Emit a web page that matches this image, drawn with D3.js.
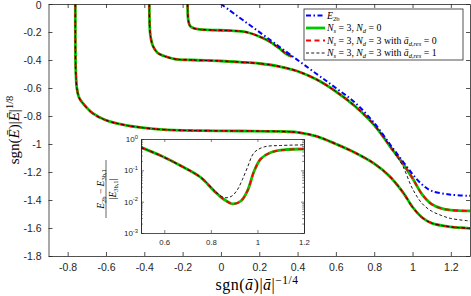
<!DOCTYPE html>
<html>
<head>
<meta charset="utf-8">
<script src="https://cdn.jsdelivr.net/npm/d3@7"></script>
<style>
  body { margin: 0; background: #fff; }
  svg { display: block; }
  .tick text { font-family: "Liberation Sans", Arial, sans-serif; fill: #262626; }
</style>
</head>
<body>
<div id="container"></div>
<script>
	var WIDTH = 471;
	var HEIGHT = 296;

	// main plot ticks
	var xTicks = [-0.8, -0.6, -0.4, -0.2, 0, 0.2, 0.4, 0.6, 0.8, 1, 1.2];
	var yTicks = [0, -0.2, -0.4, -0.6, -0.8, -1, -1.2, -1.4, -1.6, -1.8];

	// E_2b (atom-dimer threshold)
	var e2bX = [0, 0.3, 0.5, 0.6, 0.7, 0.8, 0.9, 0.95, 1.0, 1.05, 1.1, 1.2, 1.3];
	var e2bY = [0, -0.3, -0.5, -0.6, -0.705, -0.85, -1.035, -1.125, -1.215, -1.29, -1.335, -1.362, -1.37];

	// trimer branches, Ns=3 Nd=0 (red dashed Nd=3, a_res=0 is on top of it)
	var b1X = [-0.760, -0.760, -0.759, -0.757, -0.752, -0.74, -0.72, -0.67, -0.6, -0.5, -0.4, -0.3, -0.1, 0.1, 0.3, 0.4, 0.5, 0.6, 0.7, 0.8, 0.88, 0.95, 1.0, 1.05, 1.1, 1.2, 1.3];
	var b1Y = [0, -0.2, -0.4, -0.5, -0.6, -0.67, -0.71, -0.78, -0.83, -0.865, -0.885, -0.897, -0.905, -0.907, -0.91, -0.917, -0.945, -1.0, -1.062, -1.14, -1.23, -1.345, -1.45, -1.525, -1.565, -1.592, -1.602];

	var b2X = [-0.374, -0.373, -0.37, -0.365, -0.355, -0.33, -0.3, -0.24, -0.15, 0, 0.1, 0.2, 0.3, 0.4, 0.5, 0.6, 0.7, 0.8, 0.9, 0.95, 1.0, 1.05, 1.1, 1.15, 1.2, 1.3];
	var b2Y = [0, -0.1, -0.2, -0.25, -0.3, -0.35, -0.37, -0.393, -0.4, -0.407, -0.415, -0.425, -0.445, -0.48, -0.54, -0.625, -0.73, -0.865, -1.05, -1.14, -1.245, -1.36, -1.43, -1.46, -1.472, -1.478];

	var b3X = [-0.174, -0.173, -0.17, -0.162, -0.148, -0.12, -0.05, 0.05, 0.13, 0.2, 0.25, 0.3, 0.34, 0.37];
	var b3Y = [0, -0.07, -0.12, -0.155, -0.17, -0.18, -0.186, -0.19, -0.2, -0.232, -0.265, -0.312, -0.355, -0.375];

	// Nd=3 with a_res=1: branch 2 differs at the right end
	var b2resX = [-0.374, -0.373, -0.37, -0.365, -0.355, -0.33, -0.3, -0.24, -0.15, 0, 0.1, 0.2, 0.3, 0.4, 0.5, 0.6, 0.7, 0.8, 0.9, 0.95, 1.0, 1.05, 1.1, 1.15, 1.2, 1.3];
	var b2resY = [0, -0.1, -0.2, -0.25, -0.3, -0.35, -0.37, -0.393, -0.4, -0.407, -0.415, -0.425, -0.445, -0.48, -0.54, -0.625, -0.73, -0.865, -1.05, -1.16, -1.32, -1.425, -1.48, -1.51, -1.532, -1.55];

	// inset: relative error
	var inXTicks = [0.6, 0.8, 1, 1.2];
	var inYTicks = [1e-3, 1e-2, 1e-1, 1];
	var inYLabels = ["-3", "-2", "-1", "0"];
	var errX = [0.5, 0.586, 0.671, 0.757, 0.814, 0.857, 0.893, 0.929, 0.957, 0.986, 1.014, 1.057, 1.114, 1.2];
	var errY = [0.54, 0.29, 0.139, 0.059, 0.022, 0.0117, 0.0085, 0.0105, 0.022, 0.095, 0.23, 0.37, 0.45, 0.48];
	var errResX = [0.5, 0.586, 0.671, 0.757, 0.814, 0.845, 0.865, 0.89, 0.914, 0.935, 0.957, 0.986, 1.029, 1.1, 1.2];
	var errResY = [0.54, 0.29, 0.139, 0.059, 0.023, 0.0148, 0.0133, 0.0151, 0.024, 0.05, 0.123, 0.37, 0.56, 0.62, 0.65];

	var zip = function(xs, ys){
		var out = [];
		for(var i=0; i<xs.length; i++) out.push([xs[i], ys[i]]);
		return out;
	};

	var AX = '#262626';
	var GREEN = '#00c800', RED = '#ff0000', BLUE = '#0000ff';

	var svg = d3.select('#container').append('svg')
		.attr('width', WIDTH).attr('height', HEIGHT);

	var m = {left: 48.5, right: 470, top: 4, bottom: 256};
	var x = d3.scaleLinear().domain([-0.9, 1.3]).range([m.left, m.right]);
	var y = d3.scaleLinear().domain([-1.8, 0]).range([m.bottom, m.top]);

	svg.append('clipPath').attr('id', 'clipMain').append('rect')
		.attr('x', m.left).attr('y', m.top).attr('width', m.right - m.left).attr('height', m.bottom - m.top);

	var line = d3.line().x(function(d){return x(d[0]);}).y(function(d){return y(d[1]);})
		.curve(d3.curveCatmullRom.alpha(0.5));

	var plot = svg.append('g').attr('clip-path', 'url(#clipMain)');

	var branches = [zip(b1X, b1Y), zip(b2X, b2Y), zip(b3X, b3Y)];
	var resBranches = [zip(b1X, b1Y), zip(b2resX, b2resY), zip(b3X, b3Y)];

	branches.forEach(function(b){
		plot.append('path').attr('d', line(b)).attr('fill', 'none')
			.attr('stroke', GREEN).attr('stroke-width', 2.8);
	});
	branches.forEach(function(b){
		plot.append('path').attr('d', line(b)).attr('fill', 'none')
			.attr('stroke', RED).attr('stroke-width', 1.9).attr('stroke-dasharray', '5,3.5');
	});
	resBranches.forEach(function(b){
		plot.append('path').attr('d', line(b)).attr('fill', 'none')
			.attr('stroke', '#000').attr('stroke-width', 0.9).attr('stroke-dasharray', '3,2.2');
	});
	plot.append('path').attr('d', line(zip(e2bX, e2bY))).attr('fill', 'none')
		.attr('stroke', BLUE).attr('stroke-width', 2).attr('stroke-dasharray', '5,2.5,1.5,2.5');

	// axes, box with inward ticks
	var fmt = function(d){ return d3.format('')(d).replace('\u2212', '-'); };
	var gx = svg.append('g').attr('transform', 'translate(0,' + m.bottom + ')')
		.call(d3.axisBottom(x).tickValues(xTicks).tickSizeInner(-4).tickSizeOuter(0).tickPadding(8).tickFormat(fmt));
	var gxt = svg.append('g').attr('transform', 'translate(0,' + m.top + ')')
		.call(d3.axisTop(x).tickValues(xTicks).tickSizeInner(-4).tickSizeOuter(0).tickFormat(''));
	var gy = svg.append('g').attr('transform', 'translate(' + m.left + ',0)')
		.call(d3.axisLeft(y).tickValues(yTicks).tickSizeInner(-4).tickSizeOuter(0).tickPadding(7).tickFormat(fmt));
	var gyr = svg.append('g').attr('transform', 'translate(' + m.right + ',0)')
		.call(d3.axisRight(y).tickValues(yTicks).tickSizeInner(-4).tickSizeOuter(0).tickFormat(''));
	[gx, gxt, gy, gyr].forEach(function(g){
		g.selectAll('.domain').attr('stroke', AX).attr('stroke-width', 0.8);
		g.selectAll('.tick line').attr('stroke', AX).attr('stroke-width', 0.8);
		g.selectAll('.tick text').style('font-size', '10.5px');
	});
	// keep the top "0" inside the page
	gy.selectAll('.tick text').filter(function(d){ return d === 0; }).attr('y', 1.2);

	// axis labels
	var serif = '"Liberation Serif", "DejaVu Serif", serif';
	var xl = svg.append('text').attr('x', 257).attr('y', 290).attr('text-anchor', 'middle')
		.style('font-family', serif).style('font-size', '16px').style('letter-spacing', '0.5px').attr('fill', '#000');
	xl.append('tspan').text('sgn(');
	xl.append('tspan').style('font-style', 'italic').text('ā');
	xl.append('tspan').text(')|');
	xl.append('tspan').style('font-style', 'italic').text('ā');
	xl.append('tspan').text('|');
	xl.append('tspan').attr('dy', -6.5).style('font-size', '11.5px').text('\u22121/4');

	var yl = svg.append('text').attr('transform', 'translate(19,130) rotate(-90)').attr('text-anchor', 'middle')
		.style('font-family', serif).style('font-size', '15px').attr('fill', '#000');
	yl.append('tspan').text('sgn(');
	yl.append('tspan').style('font-style', 'italic').text('Ē');
	yl.append('tspan').text(')|');
	yl.append('tspan').style('font-style', 'italic').text('Ē');
	yl.append('tspan').text('|');
	yl.append('tspan').attr('dy', -6).style('font-size', '10.5px').text('1/8');

	// legend
	var lg = svg.append('g');
	lg.append('rect').attr('x', 304).attr('y', 9).attr('width', 159).attr('height', 51)
		.attr('fill', '#fff').attr('stroke', AX).attr('stroke-width', 0.8);
	var legRows = [15.5, 28, 40.5, 53];
	var sample = function(yy, stroke, w, dash){
		lg.append('line').attr('x1', 306).attr('x2', 325).attr('y1', yy).attr('y2', yy)
			.attr('stroke', stroke).attr('stroke-width', w).attr('stroke-dasharray', dash);
	};
	sample(legRows[0], BLUE, 2, '5,2.5,1.5,2.5');
	sample(legRows[1], GREEN, 2.8, null);
	sample(legRows[2], RED, 1.9, '5,3.5');
	sample(legRows[3], '#000', 0.9, '3,2.2');
	var legText = function(yy){
		return lg.append('text').attr('x', 327).attr('y', yy + 3.2)
			.style('font-family', serif).style('font-size', '9.8px').attr('fill', '#000');
	};
	var t0 = legText(legRows[0]);
	t0.append('tspan').style('font-style', 'italic').text('E');
	t0.append('tspan').attr('dy', 2).style('font-size', '6.5px').text('2b');
	var nsnd = function(t, nd){
		t.append('tspan').style('font-style', 'italic').text('N');
		t.append('tspan').attr('dy', 2).style('font-size', '6.5px').style('font-style', 'italic').text('s');
		t.append('tspan').attr('dy', -2).text(' = 3, ');
		t.append('tspan').style('font-style', 'italic').text('N');
		t.append('tspan').attr('dy', 2).style('font-size', '6.5px').style('font-style', 'italic').text('d');
		t.append('tspan').attr('dy', -2).text(' = ' + nd);
	};
	nsnd(legText(legRows[1]), '0');
	var withRes = function(t, v){
		nsnd(t, '3');
		t.append('tspan').text(' with ');
		t.append('tspan').style('font-style', 'italic').text('ā');
		t.append('tspan').attr('dy', 2).style('font-size', '6.5px').style('font-style', 'italic').text('d,res');
		t.append('tspan').attr('dy', -2).text(' = ' + v);
	};
	withRes(legText(legRows[2]), '0');
	withRes(legText(legRows[3]), '1');

	// inset
	var im = {left: 141, right: 304, top: 139, bottom: 233};
	var ix = d3.scaleLinear().domain([0.5, 1.2]).range([im.left, im.right]);
	var iy = d3.scaleLog().domain([1e-3, 1]).range([im.bottom, im.top]);
	svg.append('rect').attr('x', im.left).attr('y', im.top)
		.attr('width', im.right - im.left).attr('height', im.bottom - im.top).attr('fill', '#fff');
	svg.append('clipPath').attr('id', 'clipIn').append('rect')
		.attr('x', im.left).attr('y', im.top).attr('width', im.right - im.left).attr('height', im.bottom - im.top);
	var iline = d3.line().x(function(d){return ix(d[0]);}).y(function(d){return iy(d[1]);})
		.curve(d3.curveCatmullRom.alpha(0.5));
	var ip = svg.append('g').attr('clip-path', 'url(#clipIn)');
	ip.append('path').attr('d', iline(zip(errX, errY))).attr('fill', 'none')
		.attr('stroke', GREEN).attr('stroke-width', 2.8);
	ip.append('path').attr('d', iline(zip(errX, errY))).attr('fill', 'none')
		.attr('stroke', RED).attr('stroke-width', 1.9).attr('stroke-dasharray', '5,3.5');
	ip.append('path').attr('d', iline(zip(errResX, errResY))).attr('fill', 'none')
		.attr('stroke', '#000').attr('stroke-width', 0.9).attr('stroke-dasharray', '3,2.2');

	var minor = [];
	for(var e=-3; e<0; e++){
		for(var k=2; k<10; k++) minor.push(k * Math.pow(10, e));
	}
	var gix = svg.append('g').attr('transform', 'translate(0,' + im.bottom + ')')
		.call(d3.axisBottom(ix).tickValues(inXTicks).tickSizeInner(-3).tickSizeOuter(0).tickPadding(6).tickFormat(fmt));
	var gixt = svg.append('g').attr('transform', 'translate(0,' + im.top + ')')
		.call(d3.axisTop(ix).tickValues(inXTicks).tickSizeInner(-3).tickSizeOuter(0).tickFormat(''));
	var giy = svg.append('g').attr('transform', 'translate(' + im.left + ',0)')
		.call(d3.axisLeft(iy).tickValues(inYTicks).tickSizeInner(-3).tickSizeOuter(0).tickFormat(''));
	var giym = svg.append('g').attr('transform', 'translate(' + im.left + ',0)')
		.call(d3.axisLeft(iy).tickValues(minor).tickSizeInner(-1.8).tickSizeOuter(0).tickFormat(''));
	var giyr = svg.append('g').attr('transform', 'translate(' + im.right + ',0)')
		.call(d3.axisRight(iy).tickValues(inYTicks).tickSizeInner(-3).tickSizeOuter(0).tickFormat(''));
	var giyrm = svg.append('g').attr('transform', 'translate(' + im.right + ',0)')
		.call(d3.axisRight(iy).tickValues(minor).tickSizeInner(-1.8).tickSizeOuter(0).tickFormat(''));
	[gix, gixt, giy, giym, giyr, giyrm].forEach(function(g){
		g.selectAll('.domain').attr('stroke', AX).attr('stroke-width', 0.8);
		g.selectAll('.tick line').attr('stroke', AX).attr('stroke-width', 0.6);
		g.selectAll('.tick text').style('font-size', '7.8px');
	});
	// log tick labels 10^n
	inYTicks.forEach(function(v, i){
		var t = svg.append('text').attr('x', im.left - 3).attr('y', iy(v) + 3).attr('text-anchor', 'end')
			.style('font-family', '"Liberation Sans", Arial, sans-serif').style('font-size', '8px').attr('fill', AX);
		t.append('tspan').text('10');
		t.append('tspan').attr('dy', -3.5).style('font-size', '5.8px').text(inYLabels[i]);
	});

	// inset y label (fraction)
	var fr = svg.append('g').attr('transform', 'translate(106,189) rotate(-90)')
		.style('font-family', serif).style('font-size', '9.5px');
	var num = fr.append('text').attr('x', 0).attr('y', -2.5).attr('text-anchor', 'middle');
	num.append('tspan').style('font-style', 'italic').text('E');
	num.append('tspan').attr('dy', 2).style('font-size', '6.5px').text('2b');
	num.append('tspan').attr('dy', -2).text(' \u2212 ');
	num.append('tspan').style('font-style', 'italic').text('E');
	num.append('tspan').attr('dy', 2).style('font-size', '6.5px').text('3b,1');
	fr.append('line').attr('x1', -29).attr('x2', 29).attr('y1', 0).attr('y2', 0)
		.attr('stroke', '#000').attr('stroke-width', 0.6);
	var den = fr.append('text').attr('x', 0).attr('y', 9.5).attr('text-anchor', 'middle');
	den.append('tspan').text('|');
	den.append('tspan').style('font-style', 'italic').text('E');
	den.append('tspan').attr('dy', 2).style('font-size', '6.5px').text('3b,1');
	den.append('tspan').attr('dy', -2).text('|');
</script>
</body>
</html>
